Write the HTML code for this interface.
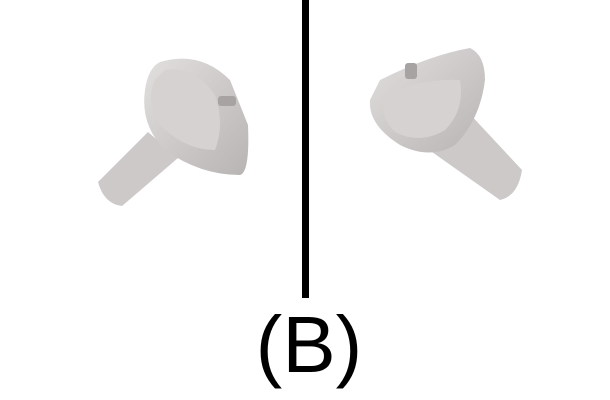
<!DOCTYPE html>
<html>
<head>
<meta charset="utf-8">
<style>
  html,body{margin:0;padding:0;background:#fff;}
  #stage{position:relative;width:610px;height:400px;overflow:hidden;background:#fff;}
  #label{position:absolute;left:4px;width:610px;top:300px;text-align:center;font-family:"Liberation Sans",sans-serif;font-size:80px;line-height:90px;color:#000;}
</style>
</head>
<body>
<div id="stage">
  <svg width="610" height="400" style="position:absolute;left:0;top:0">
    <defs>
      <linearGradient id="g1" x1="0" y1="0" x2="1" y2="1">
        <stop offset="0" stop-color="#e2dfdf"/>
        <stop offset="1" stop-color="#b9b4b4"/>
      </linearGradient>
    </defs>
    <rect x="302" y="0" width="7" height="298" fill="#000"/>
    <g>
      <path d="M98,182 L148,132 L178,158 L122,206 Q104,204 98,182 Z" fill="#cdc9c9"/>
      <path d="M160,62 Q200,50 230,80 L248,125 Q250,172 240,175 Q200,175 165,150 Q140,125 145,90 Q148,68 160,62 Z" fill="url(#g1)"/>
      <path d="M165,70 Q195,65 215,95 Q225,125 215,150 Q185,150 160,125 Q145,100 155,80 Z" fill="#d6d2d2"/>
      <rect x="218" y="96" width="18" height="10" rx="3" fill="#a8a3a3"/>
    </g>
    <g>
      <path d="M432,140 L468,112 L522,170 Q518,196 500,200 L432,152 Z" fill="#cdc9c9"/>
      <path d="M380,80 Q430,55 470,48 Q485,55 485,80 Q480,120 455,145 Q430,160 400,145 Q368,125 370,100 Z" fill="url(#g1)"/>
      <path d="M385,95 Q420,78 460,80 Q465,110 445,130 Q420,145 395,132 Q378,115 385,95 Z" fill="#d6d2d2"/>
      <rect x="405" y="63" width="12" height="16" rx="3" fill="#a8a3a3"/>
    </g>
  </svg>
  <div id="label">(B)</div>
</div>
</body>
</html>
